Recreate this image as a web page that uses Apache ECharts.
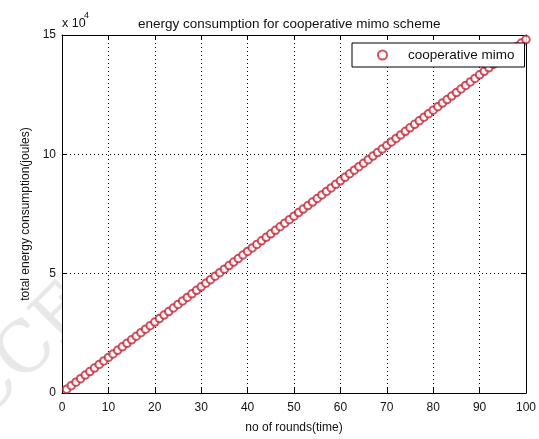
<!DOCTYPE html>
<html>
<head>
<meta charset="utf-8">
<script src="https://cdn.jsdelivr.net/npm/echarts@6/dist/echarts.min.js"></script>
<style>html,body{margin:0;padding:0;background:#fff}#c{width:539px;height:439px}</style>
</head>
<body>
<div id="c"></div>
<script>
const rounds = [];
for (let i = 1; i <= 100; i++) rounds.push(i);
const energy = [
  1580, 3060, 4540, 6020, 7500, 8980, 10460, 11940, 13420, 14900,
  16380, 17860, 19340, 20820, 22300, 23780, 25260, 26740, 28220, 29700,
  31180, 32660, 34140, 35620, 37100, 38580, 40060, 41540, 43020, 44500,
  45980, 47460, 48940, 50420, 51900, 53380, 54860, 56340, 57820, 59300,
  60780, 62260, 63740, 65220, 66700, 68180, 69660, 71140, 72620, 74100,
  75580, 77060, 78540, 80020, 81500, 82980, 84460, 85940, 87420, 88900,
  90380, 91860, 93340, 94820, 96300, 97780, 99260, 100740, 102220, 103700,
  105180, 106660, 108140, 109620, 111100, 112580, 114060, 115540, 117020, 118500,
  119980, 121460, 122940, 124420, 125900, 127380, 128860, 130340, 131820, 133300,
  134780, 136260, 137740, 139220, 140700, 142180, 143660, 145140, 146620, 148100
];
const seriesName = 'cooperative mimo';
const titleText = 'energy consumption for cooperative mimo scheme';
const xName = 'no of rounds(time)';
const yName = 'total energy consumption(joules)';
const xMin = 0, xMax = 100, xStep = 10;
const yMin = 0, yMax = 150000, yStep = 50000;
const yScale = 10000;

const FONT = "'Liberation Sans', Arial, sans-serif";
const RED = '#c02838';
const chart = echarts.init(document.getElementById('c'), null, {renderer: 'canvas'});

const axisCommon = {
  type: 'value',
  axisLine: {show: true, onZero: false, lineStyle: {color: '#000', width: 1}},
  axisTick: {show: true, inside: true, length: 5, lineStyle: {color: '#000'}},
  axisLabel: {color: '#111', fontFamily: FONT, fontSize: 12},
  splitLine: {show: false},
  z: 2
};

chart.setOption({
  animation: false,
  backgroundColor: '#fff',
  title: {
    text: titleText,
    left: 133, top: 12,
    textStyle: {fontFamily: FONT, fontSize: 13.5, fontWeight: 'normal', color: '#111'}
  },
  grid: {left: 62, right: 10, top: 35, bottom: 40, show: true, backgroundColor: '#fff', borderWidth: 0, z: -5},
  legend: {
    show: true,
    data: [{name: seriesName, icon: 'emptyCircle'}],
    left: 352, top: 43,
    orient: 'vertical',
    backgroundColor: '#fff',
    borderColor: '#000', borderWidth: 1,
    padding: [5, 10, 5, 25],
    itemWidth: 9, itemHeight: 9,
    textStyle: {fontFamily: FONT, fontSize: 13.5, color: '#111', padding: [0, 0, 0, 16]},
    z: 10
  },
  xAxis: [
    Object.assign({}, axisCommon, {
      min: xMin, max: xMax, interval: xStep, position: 'bottom',
      name: xName, nameLocation: 'middle', nameGap: 29,
      nameTextStyle: {fontFamily: FONT, fontSize: 12, color: '#111'},
      axisLabel: {color: '#111', fontFamily: FONT, fontSize: 12, margin: 9},
      splitLine: {show: true, lineStyle: {color: '#000', type: [1, 3], width: 1}}
    }),
    Object.assign({}, axisCommon, {
      min: xMin, max: xMax, interval: xStep, position: 'top',
      axisLabel: {show: false}
    })
  ],
  yAxis: [
    Object.assign({}, axisCommon, {
      min: yMin, max: yMax, interval: yStep, position: 'left',
      name: yName, nameLocation: 'middle', nameGap: 27, nameRotate: 90,
      nameTextStyle: {fontFamily: FONT, fontSize: 12, color: '#111'},
      axisLabel: {color: '#111', fontFamily: FONT, fontSize: 12, margin: 6,
        formatter: v => String(v / yScale)},
      splitLine: {show: true, lineStyle: {color: '#000', type: [1, 3], width: 1}}
    }),
    Object.assign({}, axisCommon, {
      min: yMin, max: yMax, interval: yStep, position: 'right',
      axisLabel: {show: false}
    })
  ],
  graphic: [
    {
      type: 'text', z: -10,
      x: -40, y: 470, rotation: Math.PI / 4,
      style: {text: 'ACCEPTED', fontFamily: "'DejaVu Serif', serif", fontSize: 70, fill: '#e8e8e8', textVerticalAlign: 'bottom'}
    },
    {type: 'text', left: 62, top: 17, z: 20,
      style: {text: 'x 10', fontFamily: FONT, fontSize: 12.5, fill: '#111'}},
    {type: 'text', left: 84, top: 11, z: 20,
      style: {text: '4', fontFamily: FONT, fontSize: 9, fill: '#111'}}
  ],
  series: [{
    name: seriesName,
    type: 'scatter',
    symbol: 'emptyCircle',
    symbolSize: 7.5,
    itemStyle: {color: RED, borderColor: RED, borderWidth: 1},
    data: rounds.map((r, i) => [r, energy[i]]),
    z: 5,
    clip: false
  }]
});
</script>
</body>
</html>
